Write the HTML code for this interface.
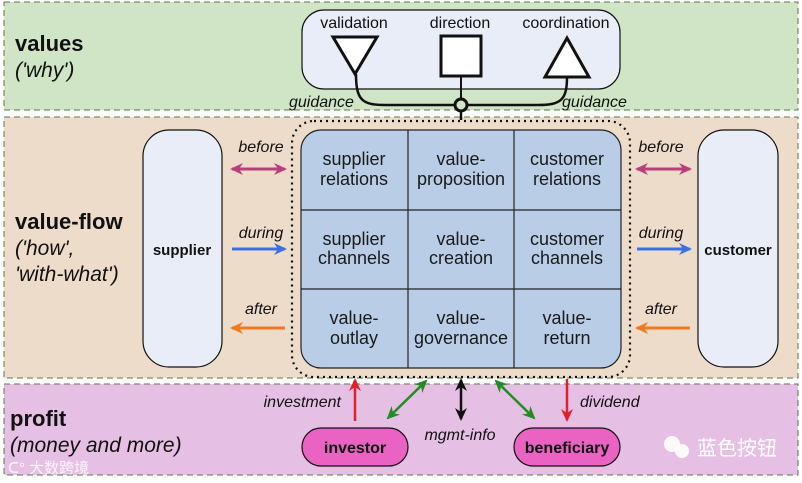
<!DOCTYPE html>
<html><head><meta charset="utf-8"><style>
html,body{margin:0;padding:0;background:#fff;}
svg{display:block;font-family:"Liberation Sans","Noto Sans CJK SC",sans-serif;}
</style></head><body>
<svg width="802" height="483" viewBox="0 0 802 483" xmlns="http://www.w3.org/2000/svg">
<defs>
<marker id="aR" markerWidth="13" markerHeight="12" refX="11" refY="6" orient="auto-start-reverse" markerUnits="userSpaceOnUse"><path d="M0,0 L13,6 L0,12 L4,6 z" fill="context-stroke"/></marker>
</defs>
<!-- bands -->
<rect x="4" y="2" width="794" height="108" fill="#cfe5c6" stroke="#5a7a4a" stroke-dasharray="6,4" stroke-width="1"/>
<rect x="4" y="117" width="794" height="261" fill="#eedccb" stroke="#5a7a4a" stroke-dasharray="6,4" stroke-width="1"/>
<rect x="4" y="384" width="794" height="91" fill="#e6c0e4" stroke="#5a7a4a" stroke-dasharray="6,4" stroke-width="1"/>

<!-- left labels -->
<text x="15" y="51" font-size="22" font-weight="bold" fill="#111">values</text>
<text x="15" y="77" font-size="21" font-style="italic" fill="#111">('why')</text>
<text x="15" y="229" font-size="22" font-weight="bold" fill="#111">value-flow</text>
<text x="15" y="255" font-size="21" font-style="italic" fill="#111">('how',</text>
<text x="15" y="281" font-size="21" font-style="italic" fill="#111">'with-what')</text>
<text x="10" y="426" font-size="22" font-weight="bold" fill="#111">profit</text>
<text x="10" y="452" font-size="21" font-style="italic" fill="#111">(money and more)</text>
<text x="8" y="473" font-size="15" fill="#fff" opacity="0.85">ᑕ° 大数跨境</text>

<!-- values box -->
<rect x="302" y="10" width="318" height="79" rx="22" fill="#e9edf7" stroke="#111" stroke-width="1.2"/>
<text x="354" y="28" font-size="16" text-anchor="middle" fill="#111">validation</text>
<text x="460" y="28" font-size="16" text-anchor="middle" fill="#111">direction</text>
<text x="566" y="28" font-size="16" text-anchor="middle" fill="#111">coordination</text>
<path d="M356,74 C356,100 362,105 385,105 L456,105" fill="none" stroke="#111" stroke-width="2.5"/>
<path d="M567,77 C567,100 561,105 538,105 L466,105" fill="none" stroke="#111" stroke-width="2.5"/>
<line x1="461" y1="76" x2="461" y2="99" stroke="#111" stroke-width="2"/>
<line x1="461" y1="111" x2="461" y2="120" stroke="#111" stroke-width="2.5"/>
<polygon points="333,37 377,37 355,74" fill="#fff" stroke="#111" stroke-width="3"/>
<rect x="441" y="36" width="40" height="40" fill="#fff" stroke="#111" stroke-width="3"/>
<polygon points="545,77 589,77 567,38" fill="#fff" stroke="#111" stroke-width="3"/>
<circle cx="461" cy="105" r="6" fill="#cfe5c6" stroke="#111" stroke-width="3"/>
<text x="289" y="107" font-size="16" font-style="italic" fill="#111">guidance</text>
<text x="562" y="107" font-size="16" font-style="italic" fill="#111">guidance</text>

<!-- dotted surround -->
<rect x="292" y="121" width="338" height="256" rx="22" fill="none" stroke="#111" stroke-width="2.2" stroke-dasharray="2,4"/>

<!-- grid -->
<rect x="301" y="130" width="320" height="238" rx="20" fill="#b9cde6" stroke="#222" stroke-width="1.2"/>
<line x1="408" y1="130" x2="408" y2="368" stroke="#222" stroke-width="1.2"/>
<line x1="514" y1="130" x2="514" y2="368" stroke="#222" stroke-width="1.2"/>
<line x1="301" y1="210" x2="621" y2="210" stroke="#222" stroke-width="1.2"/>
<line x1="301" y1="289" x2="621" y2="289" stroke="#222" stroke-width="1.2"/>
<g font-size="18" text-anchor="middle" fill="#1a1a1a">
<text x="354" y="165">supplier</text><text x="354" y="185">relations</text>
<text x="461" y="165">value-</text><text x="461" y="185">proposition</text>
<text x="567" y="165">customer</text><text x="567" y="185">relations</text>
<text x="354" y="245">supplier</text><text x="354" y="264">channels</text>
<text x="461" y="245">value-</text><text x="461" y="264">creation</text>
<text x="567" y="245">customer</text><text x="567" y="264">channels</text>
<text x="354" y="324">value-</text><text x="354" y="344">outlay</text>
<text x="461" y="324">value-</text><text x="461" y="344">governance</text>
<text x="567" y="324">value-</text><text x="567" y="344">return</text>
</g>

<!-- supplier / customer -->
<rect x="143" y="130" width="79" height="237" rx="26" fill="#e9edf7" stroke="#111" stroke-width="1.2"/>
<text x="182" y="255" font-size="15" font-weight="bold" text-anchor="middle" fill="#111">supplier</text>
<rect x="698" y="130" width="80" height="237" rx="26" fill="#e9edf7" stroke="#111" stroke-width="1.2"/>
<text x="738" y="255" font-size="15" font-weight="bold" text-anchor="middle" fill="#111">customer</text>

<!-- side arrows -->
<g font-size="16" font-style="italic" fill="#111" text-anchor="middle">
<text x="261" y="152">before</text><text x="261" y="238">during</text><text x="261" y="314">after</text>
<text x="661" y="152">before</text><text x="661" y="238">during</text><text x="661" y="314">after</text>
</g>
<line x1="232" y1="169" x2="285" y2="169" stroke="#b8407a" stroke-width="3" marker-start="url(#aR)" marker-end="url(#aR)"/>
<line x1="232" y1="249" x2="285" y2="249" stroke="#3d6fe0" stroke-width="3" marker-end="url(#aR)"/>
<line x1="285" y1="328" x2="232" y2="328" stroke="#f07820" stroke-width="3" marker-end="url(#aR)"/>
<line x1="637" y1="169" x2="690" y2="169" stroke="#b8407a" stroke-width="3" marker-start="url(#aR)" marker-end="url(#aR)"/>
<line x1="637" y1="249" x2="690" y2="249" stroke="#3d6fe0" stroke-width="3" marker-end="url(#aR)"/>
<line x1="690" y1="328" x2="637" y2="328" stroke="#f07820" stroke-width="3" marker-end="url(#aR)"/>

<!-- profit arrows -->
<line x1="355" y1="421" x2="355" y2="380" stroke="#e0202a" stroke-width="2.5" marker-end="url(#aR)"/>
<line x1="388" y1="418" x2="426" y2="381" stroke="#228b22" stroke-width="2.5" marker-start="url(#aR)" marker-end="url(#aR)"/>
<line x1="461" y1="380" x2="461" y2="419" stroke="#111" stroke-width="2.5" marker-start="url(#aR)" marker-end="url(#aR)"/>
<line x1="496" y1="381" x2="534" y2="418" stroke="#228b22" stroke-width="2.5" marker-start="url(#aR)" marker-end="url(#aR)"/>
<line x1="567" y1="379" x2="567" y2="420" stroke="#e0202a" stroke-width="2.5" marker-end="url(#aR)"/>
<text x="341" y="407" font-size="16" font-style="italic" text-anchor="end" fill="#111">investment</text>
<text x="580" y="407" font-size="16" font-style="italic" fill="#111">dividend</text>
<text x="460" y="440" font-size="16" font-style="italic" text-anchor="middle" fill="#111">mgmt-info</text>

<rect x="302" y="428" width="106" height="38" rx="19" fill="#ea62c2" stroke="#111" stroke-width="1.2"/>
<text x="355" y="453" font-size="16" font-weight="bold" text-anchor="middle" fill="#111">investor</text>
<rect x="514" y="428" width="106" height="38" rx="19" fill="#ea62c2" stroke="#111" stroke-width="1.2"/>
<text x="567" y="453" font-size="16" font-weight="bold" text-anchor="middle" fill="#111">beneficiary</text>

<!-- watermark -->
<circle cx="672" cy="444" r="8" fill="#fff" opacity="0.9"/><circle cx="682" cy="451" r="7" fill="#fff" opacity="0.9"/>
<text x="697" y="455" font-size="20" fill="#fff">蓝色按钮</text>
</svg>
</body></html>
